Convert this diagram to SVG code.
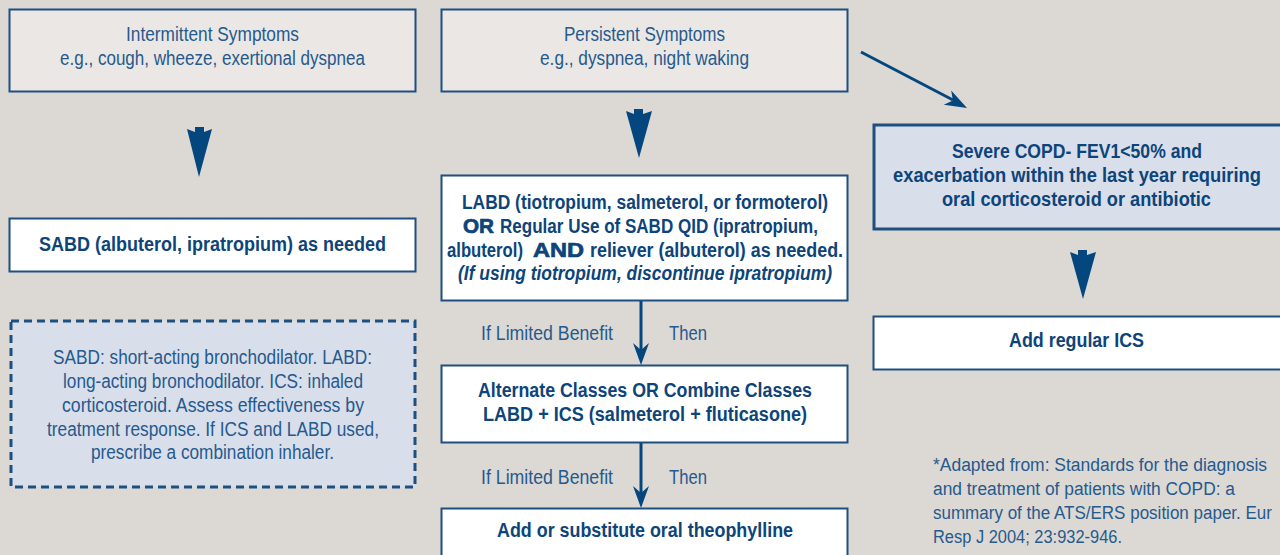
<svg xmlns="http://www.w3.org/2000/svg" width="1280" height="555" viewBox="0 0 1280 555">
<defs>
<style>
.bg{fill:#dcd8d4}
.box{stroke:#1d4f80;stroke-width:2}
.grey{fill:#ebe7e4}
.white{fill:#ffffff}
.t{font-family:"Liberation Sans",Arial,sans-serif;font-size:20px;fill:#255a8e;text-anchor:middle}
.b{font-family:"Liberation Sans",Arial,sans-serif;font-size:20px;font-weight:bold;fill:#0d4479;text-anchor:middle}
.s{text-anchor:start}
.w{font-family:"Liberation Sans",Arial,sans-serif;font-weight:bold;font-size:21px;fill:#0d4479;stroke:#0d4479;stroke-width:0.7}
.fn{font-family:"Liberation Sans",Arial,sans-serif;font-size:19px;fill:#255a8e}
.chev{fill:#04477e}
.line{stroke:#04477e;stroke-width:3;fill:none}
</style>
</defs>
<rect class="bg" x="0" y="0" width="1280" height="555"/>

<g id="connectors">
<polygon class="chev" points="187,129 195,132 195,127 204,127 204,132 212,129 199,177"/>
<polygon class="chev" points="626,111 634,114 634,109 643,109 643,114 652,111 639,158"/>
<polygon class="chev" points="1070,252 1078,255 1078,250 1087,250 1087,255 1096,252 1083,299"/>
<line class="line" x1="861" y1="52" x2="953" y2="100"/>
<polygon class="chev" points="967,108 943.8,104.8 952.9,100.5 951.2,90.6"/>
<line class="line" x1="641" y1="300" x2="641" y2="350"/>
<polygon class="chev" points="641,365 633,343 641,350 649,343"/>
<line class="line" x1="641" y1="443" x2="641" y2="493"/>
<polygon class="chev" points="641,508 633,486 641,493 649,486"/>
<text class="t" x="547" y="340" textLength="132" lengthAdjust="spacingAndGlyphs">If Limited Benefit</text>
<text class="t" x="688" y="340" textLength="38" lengthAdjust="spacingAndGlyphs">Then</text>
<text class="t" x="547" y="484" textLength="132" lengthAdjust="spacingAndGlyphs">If Limited Benefit</text>
<text class="t" x="688" y="484" textLength="38" lengthAdjust="spacingAndGlyphs">Then</text>
</g>

<g id="intermittent">
<rect class="box grey" x="9.5" y="9.5" width="406" height="82"/>
<text class="t" x="212.5" y="41" textLength="173" lengthAdjust="spacingAndGlyphs">Intermittent Symptoms</text>
<text class="t" x="212.5" y="65" textLength="305" lengthAdjust="spacingAndGlyphs">e.g., cough, wheeze, exertional dyspnea</text>
</g>

<g id="persistent">
<rect class="box grey" x="441.5" y="9.5" width="406" height="82"/>
<text class="t" x="644.5" y="41" textLength="161" lengthAdjust="spacingAndGlyphs">Persistent Symptoms</text>
<text class="t" x="644.5" y="65" textLength="209" lengthAdjust="spacingAndGlyphs">e.g., dyspnea, night waking</text>
</g>

<g id="sabd">
<rect class="box white" x="9.5" y="218.5" width="406" height="53"/>
<text class="b" x="212.5" y="251" textLength="347" lengthAdjust="spacingAndGlyphs">SABD (albuterol, ipratropium) as needed</text>
</g>

<g id="labd">
<rect class="box white" x="441.5" y="175.5" width="406" height="125"/>
<text class="b" x="645" y="209" textLength="366" lengthAdjust="spacingAndGlyphs">LABD (tiotropium, salmeterol, or formoterol)</text>
<text class="w" x="463" y="233" textLength="31" lengthAdjust="spacingAndGlyphs">OR</text>
<text class="b s" x="500" y="233" textLength="318" lengthAdjust="spacingAndGlyphs">Regular Use of SABD QID (ipratropium,</text>
<text class="b s" transform="translate(447 0) scale(0.8 1)" x="0" y="257" textLength="95" lengthAdjust="spacingAndGlyphs">albuterol)</text>
<text class="w" x="533" y="257" textLength="51" lengthAdjust="spacingAndGlyphs">AND</text>
<text class="b s" x="590" y="257" textLength="253" lengthAdjust="spacingAndGlyphs">reliever (albuterol) as needed.</text>
<text class="b" x="645" y="280" font-style="italic" textLength="374" lengthAdjust="spacingAndGlyphs">(If using tiotropium, discontinue ipratropium)</text>
</g>

<g id="severe">
<rect x="874" y="125" width="410" height="104" fill="#d9deeb" stroke="#1d4f80" stroke-width="3"/>
<text class="b" x="1077" y="158" textLength="250" lengthAdjust="spacingAndGlyphs">Severe COPD- FEV1&lt;50% and</text>
<text class="b" transform="translate(1077 0) scale(0.8 1)" x="0" y="182" textLength="460" lengthAdjust="spacingAndGlyphs">exacerbation within the last year requiring</text>
<text class="b" x="1076.5" y="206" textLength="269" lengthAdjust="spacingAndGlyphs">oral corticosteroid or antibiotic</text>
</g>

<g id="ics">
<rect class="box white" x="873.5" y="316.5" width="410" height="53"/>
<text class="b" x="1076.5" y="347" textLength="135" lengthAdjust="spacingAndGlyphs">Add regular ICS</text>
</g>

<g id="legend">
<rect x="11" y="321" width="404" height="166" fill="#d9deeb" stroke="#1d4f80" stroke-width="3" stroke-dasharray="8 5"/>
<text class="t" x="212.5" y="364" textLength="319" lengthAdjust="spacingAndGlyphs">SABD: short-acting bronchodilator.  LABD:</text>
<text class="t" x="213" y="388" textLength="300" lengthAdjust="spacingAndGlyphs">long-acting bronchodilator. ICS: inhaled</text>
<text class="t" x="213" y="412" textLength="302" lengthAdjust="spacingAndGlyphs">corticosteroid.  Assess effectiveness by</text>
<text class="t" x="213" y="436" textLength="332" lengthAdjust="spacingAndGlyphs">treatment response.  If ICS and LABD used,</text>
<text class="t" x="212.5" y="459" textLength="243" lengthAdjust="spacingAndGlyphs">prescribe a combination inhaler.</text>
</g>

<g id="alternate">
<rect class="box white" x="441.5" y="365.5" width="406" height="77"/>
<text class="b" x="645" y="397" textLength="334" lengthAdjust="spacingAndGlyphs">Alternate Classes OR Combine Classes</text>
<text class="b" x="645" y="421" textLength="324" lengthAdjust="spacingAndGlyphs">LABD + ICS (salmeterol + fluticasone)</text>
</g>

<g id="theophylline">
<rect class="box white" x="441.5" y="508.5" width="406" height="60"/>
<text class="b" x="645" y="537" textLength="296" lengthAdjust="spacingAndGlyphs">Add or substitute oral theophylline</text>
</g>

<g id="footnote" transform="translate(933 0) scale(0.8 1)">
<text class="fn" x="0" y="471" textLength="417.5" lengthAdjust="spacingAndGlyphs">*Adapted from: Standards for the diagnosis</text>
<text class="fn" x="0" y="495" textLength="377.5" lengthAdjust="spacingAndGlyphs">and treatment of patients with COPD: a</text>
<text class="fn" x="0" y="519" textLength="423.75" lengthAdjust="spacingAndGlyphs">summary of the ATS/ERS position paper. Eur</text>
<text class="fn" x="0" y="543" textLength="236.25" lengthAdjust="spacingAndGlyphs">Resp J 2004; 23:932-946.</text>
</g>
</svg>
